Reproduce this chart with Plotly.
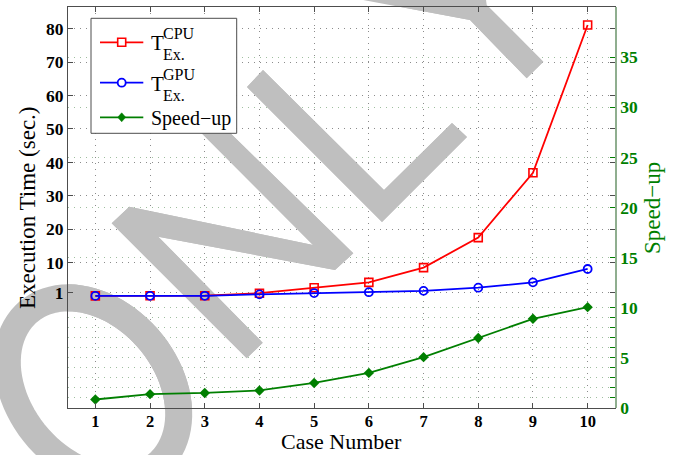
import math
import plotly.graph_objects as go

# ---------------- data ----------------
cases = [1, 2, 3, 4, 5, 6, 7, 8, 9, 10]
t_cpu = [0.04, 0.08, 0.10, 0.85, 2.5, 4.1, 8.5, 17.5, 36.9, 81.1]
t_gpu = [0.05, 0.06, 0.07, 0.50, 0.9, 1.15, 1.55, 2.5, 4.1, 8.1]
speedup = [0.85, 1.38, 1.5, 1.75, 2.5, 3.5, 5.07, 6.98, 8.9, 10.06]

x_ticks = cases
left_ticks = [1, 10, 20, 30, 40, 50, 60, 70, 80]
right_ticks = [0, 1, 2, 3, 4, 5, 6, 7, 8, 9, 10, 15, 20, 25, 30, 35]
right_labels = [str(v) if v % 5 == 0 else "" for v in right_ticks]

X_RANGE = [0.5, 10.5]
Y_RANGE = [-33.5, 86.5]
Y2_RANGE = [0, 40]

# ---------------- styling ----------------
W, H = 677, 455
PX0, PX1, PY0, PY1 = 68, 615, 7, 408  # plot area in pixels
SERIF = "Liberation Serif, Times New Roman, serif"
RED, BLUE, GREEN = "#ff0000", "#0000ff", "#007f00"
FRAME = "#4d4d4d"
GRAY = "#bfbfbf"


def pp(x, y):
    """pixel -> paper coords"""
    return (x - PX0) / (PX1 - PX0), (PY1 - y) / (PY1 - PY0)


def pd(x, y):
    """pixel -> data coords (x, left y)"""
    fx, fy = pp(x, y)
    return (X_RANGE[0] + fx * (X_RANGE[1] - X_RANGE[0]),
            Y_RANGE[0] + fy * (Y_RANGE[1] - Y_RANGE[0]))


def path_of(pts, conv, close=True):
    s = []
    for i, (x, y) in enumerate(pts):
        a, b = conv(x, y)
        s.append(("M" if i == 0 else "L") + f"{a:.5f},{b:.5f}")
    return " ".join(s) + (" Z" if close else "")


def ellipse_pts(cx, cy, a, b, ang, n=90):
    c, s = math.cos(math.radians(ang)), math.sin(math.radians(ang))
    out = []
    for k in range(n):
        t = 2 * math.pi * k / n
        u, v = a * math.cos(t), b * math.sin(t)
        out.append((cx + u * c - v * s, cy + u * s + v * c))
    return out


fig = go.Figure()

fig.add_trace(go.Scatter(
    x=cases, y=t_cpu, mode="lines+markers", name="CPU",
    line=dict(color=RED, width=1.8),
    marker=dict(symbol="square-open", size=8, color=RED, line=dict(width=1.6, color=RED)),
    showlegend=False, yaxis="y"))
fig.add_trace(go.Scatter(
    x=cases, y=t_gpu, mode="lines+markers", name="GPU",
    line=dict(color=BLUE, width=1.8),
    marker=dict(symbol="circle-open", size=8, color=BLUE, line=dict(width=1.8, color=BLUE)),
    showlegend=False, yaxis="y"))
fig.add_trace(go.Scatter(
    x=cases, y=speedup, mode="lines+markers", name="Speed−up",
    line=dict(color=GREEN, width=1.8),
    marker=dict(symbol="diamond", size=8, color=GREEN, line=dict(width=0)),
    showlegend=False, yaxis="y2"))

# ---------------- watermark ("ONLY") ----------------
shapes = []
ring = ellipse_pts(93, 388, 100, 74, 50)
N_poly = [(111.7, 223.3), (129.3, 206.7), (313, 245), (191.7, 123.3), (206.7, 110),
          (353.3, 253.3), (335, 270), (158.3, 236.7), (262.7, 342.7), (246.7, 358.3)]
L_poly = [(247, 87), (382, 222), (467, 137), (452, 123), (384, 190), (263, 70)]
Y_poly = [(330, -30), (330, -6.2), (470, 20), (526.7, 78.3), (543.3, 61.7), (486.7, 5), (482, -30)]

for conv, ref, layer in [(pp, "paper", "below"), (pd, "data", "between")]:
    xr, yr = ("paper", "paper") if ref == "paper" else ("x", "y")
    shapes.append(dict(type="path", path=path_of(ring, conv), xref=xr, yref=yr, layer=layer,
                       line=dict(color=GRAY, width=27), fillcolor="rgba(0,0,0,0)"))
    for poly in (N_poly, L_poly, Y_poly):
        shapes.append(dict(type="path", path=path_of(poly, conv), xref=xr, yref=yr, layer=layer,
                           line=dict(width=0), fillcolor=GRAY))

# ---------------- legend (drawn manually) ----------------
bx0, by0 = pp(91, 18.3)
bx1, by1 = pp(236.7, 133.3)
shapes.append(dict(type="rect", xref="paper", yref="paper", x0=bx0, y0=by1, x1=bx1, y1=by0,
                   layer="above", fillcolor="white", line=dict(color=FRAME, width=1)))

rows = [(42.3, RED), (82.7, BLUE), (117.3, GREEN)]
for yy, col in rows:
    a0, b0 = pp(100, yy)
    a1, _ = pp(143.3, yy)
    shapes.append(dict(type="line", xref="paper", yref="paper", x0=a0, y0=b0, x1=a1, y1=b0,
                       layer="above", line=dict(color=col, width=1.8)))
mx = 121.7
s0 = pp(mx - 4, 42.3 - 4); s1 = pp(mx + 4, 42.3 + 4)
shapes.append(dict(type="rect", xref="paper", yref="paper", x0=s0[0], y0=s1[1], x1=s1[0], y1=s0[1],
                   layer="above", fillcolor="white", line=dict(color=RED, width=1.6)))
c0 = pp(mx - 4, 82.7 - 4); c1 = pp(mx + 4, 82.7 + 4)
shapes.append(dict(type="circle", xref="paper", yref="paper", x0=c0[0], y0=c1[1], x1=c1[0], y1=c0[1],
                   layer="above", fillcolor="white", line=dict(color=BLUE, width=1.8)))
dpts = [(mx, 117.3 - 4.5), (mx + 4, 117.3), (mx, 117.3 + 4.5), (mx - 4, 117.3)]
shapes.append(dict(type="path", path=path_of(dpts, pp), xref="paper", yref="paper", layer="above",
                   fillcolor=GREEN, line=dict(color=GREEN, width=0.5)))

annotations = []


def add_text(text, x, y, size, color="black", xanchor="left", yanchor="middle",
             angle=0, weight="normal", pad=1):
    ax, ay = pp(x, y)
    annotations.append(dict(text=text, x=ax, y=ay, xref="paper", yref="paper",
                            xanchor=xanchor, yanchor=yanchor, showarrow=False,
                            textangle=angle, borderpad=pad,
                            font=dict(family=SERIF, size=size, color=color, weight=weight)))


for dy, lab in [(0, "CPU"), (40.5, "GPU")]:
    add_text("T", 149.5, 43 + dy, 21, pad=0)
    add_text(lab, 162, 33.5 + dy, 16, pad=0)
    add_text("Ex.", 162, 55 + dy, 16, pad=0)
add_text("Speed−up", 149.5, 118.5, 20, pad=0)

# axis titles
add_text("Case Number", 341.5, 455, 22, xanchor="center", yanchor="bottom", pad=0)
add_text("Execution Time (sec.)", 27, 208, 23, xanchor="center", angle=-90)
add_text("Speed−up", 652, 208, 23, color=GREEN, xanchor="center", angle=-90)

xtickfont = dict(family=SERIF, size=16.5, color="black", weight="bold")
ytickfont = dict(family=SERIF, size=17.5, color="black", weight="bold")

fig.update_layout(
    width=W, height=H,
    margin=dict(l=PX0, r=W - PX1, t=PY0, b=H - PY1, pad=0),
    paper_bgcolor="white", plot_bgcolor="rgba(0,0,0,0)",
    showlegend=False,
    shapes=shapes, annotations=annotations,
    xaxis=dict(range=X_RANGE, tickmode="array", tickvals=x_ticks, ticktext=[str(v) for v in x_ticks],
               ticks="inside", ticklen=5, tickcolor=FRAME, tickwidth=1, automargin=False,
               ticklabelstandoff=-2,
               showline=True, linecolor=FRAME, linewidth=1, mirror="ticks",
               showgrid=True, gridcolor="#8c8c8c", gridwidth=1, griddash="1px,5px",
               zeroline=False, tickfont=xtickfont),
    yaxis=dict(range=Y_RANGE, tickmode="array", tickvals=left_ticks, ticktext=[str(v) for v in left_ticks],
               ticks="inside", ticklen=5, tickcolor=FRAME, tickwidth=1, automargin=False,
               showline=True, linecolor=FRAME, linewidth=1, mirror="ticks",
               showgrid=True, gridcolor="#8c8c8c", gridwidth=1, griddash="1px,5px",
               zeroline=False, tickfont=ytickfont),
    yaxis2=dict(range=Y2_RANGE, overlaying="y", side="right", tickmode="array",
                tickvals=right_ticks, ticktext=right_labels, automargin=False,
                ticks="inside", ticklen=5, tickcolor=GREEN, tickwidth=1,
                showline=True, linecolor="#8fae8f", linewidth=1.5,
                showgrid=True, gridcolor="#9fbf9f", gridwidth=1, griddash="1px,5px",
                zeroline=False, tickfont=dict(family=SERIF, size=17.5, color=GREEN, weight="bold")),
)

fig.write_html("out.html", config={"displayModeBar": False},
               post_script="document.body.style.margin='0px';document.body.style.overflow='hidden';")
